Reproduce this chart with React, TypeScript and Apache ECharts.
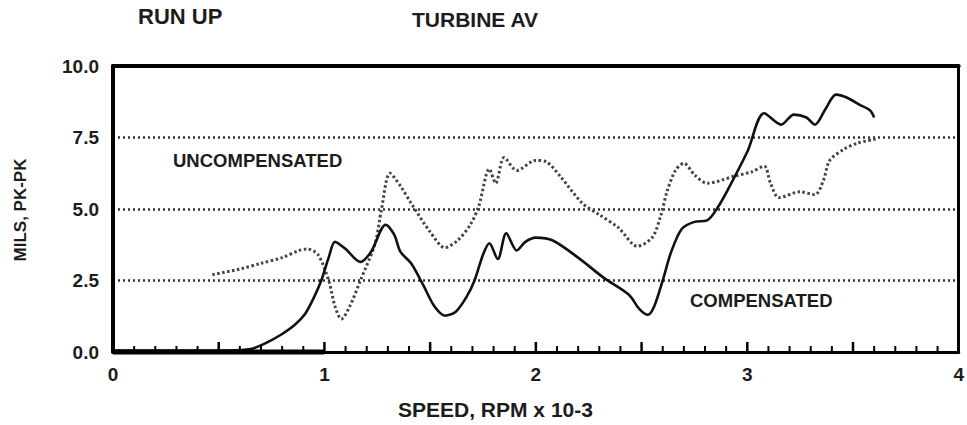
import React, { useEffect, useRef } from "react";
import * as echarts from "echarts";

const xTickLabels = ["0", "1", "2", "3", "4"];
const yTickLabels = ["0.0", "2.5", "5.0", "7.5", "10.0"];

const compensated: [number, number][] = [
  [0, 0.05], [0.3, 0.05], [0.55, 0.05], [0.65, 0.1], [0.72, 0.3], [0.8, 0.63],
  [0.86, 0.95], [0.91, 1.35], [0.95, 1.9], [0.985, 2.5], [1.02, 3.3], [1.05, 3.85],
  [1.1, 3.6], [1.17, 3.15], [1.22, 3.5], [1.29, 4.45], [1.33, 4.1], [1.36, 3.5],
  [1.41, 3.1], [1.47, 2.3], [1.52, 1.6], [1.57, 1.27], [1.62, 1.4], [1.67, 1.9],
  [1.71, 2.5], [1.75, 3.4], [1.78, 3.8], [1.82, 3.25], [1.86, 4.15], [1.91, 3.55],
  [1.95, 3.85], [2.0, 4.0], [2.08, 3.9], [2.2, 3.3], [2.32, 2.6], [2.44, 2.0],
  [2.49, 1.5], [2.53, 1.3], [2.56, 1.6], [2.6, 2.5], [2.64, 3.5], [2.69, 4.3],
  [2.75, 4.55], [2.81, 4.6], [2.86, 5.05], [2.91, 5.7], [3.0, 7.0], [3.08, 8.35],
  [3.16, 7.95], [3.22, 8.3], [3.28, 8.2], [3.32, 7.95], [3.37, 8.5], [3.42, 9.0],
  [3.47, 8.9], [3.53, 8.65], [3.58, 8.45], [3.6, 8.2],
];

const uncompensated: [number, number][] = [
  [0.47, 2.7], [0.6, 2.9], [0.7, 3.1], [0.8, 3.3], [0.88, 3.55], [0.92, 3.6],
  [0.97, 3.4], [1.02, 2.5], [1.05, 1.6], [1.08, 1.15], [1.12, 1.6], [1.17, 2.5],
  [1.24, 3.8], [1.27, 5.0], [1.31, 6.25], [1.36, 5.8], [1.41, 5.2], [1.5, 4.2],
  [1.57, 3.65], [1.63, 3.9], [1.69, 4.45], [1.73, 5.1], [1.78, 6.4], [1.81, 5.9],
  [1.85, 6.8], [1.91, 6.35], [2.0, 6.7], [2.05, 6.65], [2.12, 6.1], [2.22, 5.2],
  [2.3, 4.8], [2.39, 4.35], [2.48, 3.7], [2.55, 4.0], [2.59, 4.75], [2.62, 5.6],
  [2.66, 6.35], [2.7, 6.6], [2.75, 6.2], [2.81, 5.9], [2.94, 6.15], [3.02, 6.3],
  [3.08, 6.5], [3.11, 5.9], [3.15, 5.4], [3.25, 5.6], [3.32, 5.5], [3.36, 6.0],
  [3.39, 6.7], [3.46, 7.1], [3.52, 7.3], [3.61, 7.45],
];

const thickBase: [number, number][] = [[0, 0], [1, 0]];

// x-axis tick marks every 0.1 (longer at each 0.5)
const xTicks: number[] = [];
for (let i = 1; i < 40; i++) xTicks.push(i / 10);

const FONT = "'Liberation Sans', Arial, sans-serif";
const INK = "#1c1c1c";

export default function App() {
  const ref = useRef<HTMLDivElement>(null);
  useEffect(() => {
    if (!ref.current) return;
    const chart = echarts.init(ref.current, undefined, { renderer: "svg" });
    const textStyle = (size: number) => ({
      fontFamily: FONT,
      fontWeight: "bold" as const,
      fontSize: size,
      fill: INK,
    });
    const texts: any[] = [
      { type: "text", left: 138, top: 5, style: { text: "RUN UP", ...textStyle(22) } },
      { type: "text", left: 412, top: 9, style: { text: "TURBINE AV", ...textStyle(21) } },
      { type: "text", left: 173, top: 151, style: { text: "UNCOMPENSATED", ...textStyle(18.5) } },
      { type: "text", left: 690, top: 291, style: { text: "COMPENSATED", ...textStyle(18.5) } },
      { type: "text", left: 398, top: 399, style: { text: "SPEED, RPM x 10-3", ...textStyle(21) } },
      {
        type: "text",
        x: 20,
        y: 210,
        rotation: Math.PI / 2,
        style: { text: "MILS, PK-PK", ...textStyle(17), align: "center", verticalAlign: "middle" },
      },
    ];
    chart.setOption({
      animation: false,
      backgroundColor: "#ffffff",
      grid: { left: 113, right: 3, top: 66, bottom: 73, containLabel: false },
      xAxis: [
        {
          type: "value",
          min: 0,
          max: 4,
          interval: 1,
          position: "bottom",
          axisLine: { show: true, onZero: false, lineStyle: { color: "#000", width: 3 } },
          axisTick: { show: false },
          splitLine: { show: false },
          axisLabel: {
            show: true,
            margin: 13,
            fontFamily: FONT,
            fontWeight: "bold",
            fontSize: 19,
            color: INK,
            formatter: (v: number) => xTickLabels[Math.round(v)],
          },
        },
        {
          type: "value",
          min: 0,
          max: 4,
          position: "top",
          axisLine: { show: true, onZero: false, lineStyle: { color: "#000", width: 4 } },
          axisTick: { show: false },
          axisLabel: { show: false },
          splitLine: { show: false },
        },
      ],
      yAxis: [
        {
          type: "value",
          min: 0,
          max: 10,
          interval: 2.5,
          position: "left",
          axisLine: { show: true, onZero: false, lineStyle: { color: "#000", width: 4 } },
          axisTick: { show: false },
          axisLabel: {
            margin: 14,
            fontFamily: FONT,
            fontWeight: "bold",
            fontSize: 19,
            color: INK,
            formatter: (v: number) => yTickLabels[Math.round(v / 2.5)],
          },
          splitLine: { show: true, lineStyle: { color: "#333", width: 2.5, type: [2, 3] } },
        },
        {
          type: "value",
          min: 0,
          max: 10,
          position: "right",
          axisLine: { show: true, onZero: false, lineStyle: { color: "#000", width: 3 } },
          axisTick: { show: false },
          axisLabel: { show: false },
          splitLine: { show: false },
        },
      ],
      series: [
        {
          name: "UNCOMPENSATED",
          type: "line",
          data: uncompensated,
          symbol: "none",
          smooth: 0.3,
          lineStyle: { color: "#444", width: 3, type: [2.5, 2.5] },
          z: 3,
        },
        {
          name: "COMPENSATED",
          type: "line",
          data: compensated,
          symbol: "none",
          smooth: 0.3,
          lineStyle: { color: "#111", width: 2.6 },
          z: 4,
        },
        {
          name: "base",
          type: "line",
          data: thickBase,
          symbol: "none",
          clip: false,
          lineStyle: { color: "#000", width: 5 },
          z: 5,
          silent: true,
        },
      ],
      graphic: texts,
    });
    // axis tick marks placed through the chart's own x scale
    const tickEls = xTicks.map((t) => {
      const major = Math.round(t * 10) % 5 === 0;
      const p = chart.convertToPixel({ gridIndex: 0 }, [t, 0]) as number[];
      const len = major ? 10 : 6;
      return {
        type: "line",
        silent: true,
        z: 100,
        shape: { x1: p[0], y1: p[1], x2: p[0], y2: p[1] - len },
        style: { stroke: "#000", lineWidth: major ? 2.5 : 2 },
      };
    });
    chart.setOption({ graphic: [...texts, ...tickEls] });
    return () => chart.dispose();
  }, []);
  return (
    <div
      ref={ref}
      style={{ position: "fixed", left: 0, top: 0, width: 967, height: 425, background: "#fff" }}
    />
  );
}
